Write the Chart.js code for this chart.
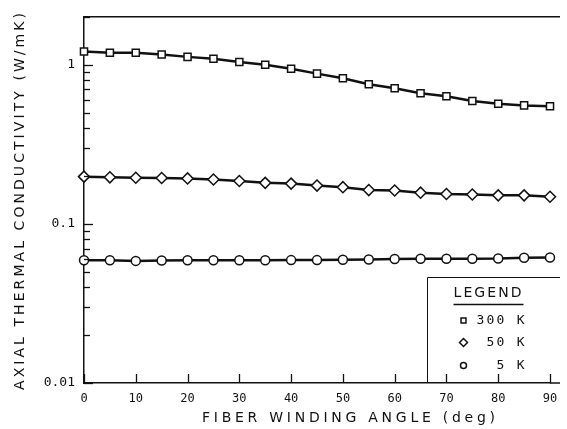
<!DOCTYPE html>
<html>
<head>
<meta charset="utf-8">
<script src="https://cdn.jsdelivr.net/npm/chart.js@4.4.1/dist/chart.umd.min.js"></script>
<style>
  html, body { margin: 0; padding: 0; background: #fff; }
  #wrap { width: 567px; height: 429px; }
</style>
</head>
<body>
<div id="wrap"><canvas id="c" width="567" height="429"></canvas></div>
<script>
// fiber winding angle (deg)
const angles = [0, 5, 10, 15, 20, 25, 30, 35, 40, 45, 50, 55, 60, 65, 70, 75, 80, 85, 90];
// axial thermal conductivity (W/mK) per temperature
const k300 = [1.21, 1.19, 1.19, 1.16, 1.12, 1.09, 1.04, 1.00, 0.944, 0.879, 0.822, 0.754, 0.711, 0.662, 0.634, 0.591, 0.569, 0.555, 0.548];
const k50 = [0.198, 0.196, 0.195, 0.194, 0.193, 0.190, 0.186, 0.181, 0.179, 0.174, 0.170, 0.163, 0.162, 0.157, 0.154, 0.153, 0.151, 0.151, 0.148];
const k5 = [0.059, 0.059, 0.0585, 0.0588, 0.059, 0.059, 0.059, 0.059, 0.0592, 0.0592, 0.0595, 0.0597, 0.0602, 0.0603, 0.0603, 0.0604, 0.0605, 0.0612, 0.0615];
const seriesNames = ['300 K', ' 50 K', '  5 K'];
const yMajorTicks = [0.01, 0.1, 1];
const xTicks = [0, 10, 20, 30, 40, 50, 60, 70, 80, 90];

const INK = '#111';
const MONO = '"DejaVu Sans Mono", "Liberation Mono", monospace';
const SANS = '"DejaVu Sans", sans-serif';

function pts(ys) {
  return angles.map((a, i) => ({ x: a, y: ys[i] }));
}

const markers = [
  { pointStyle: 'rect', radius: 5 },
  { pointStyle: 'rectRot', radius: 5.5 },
  { pointStyle: 'circle', radius: 4.5 }
];

// spaced text drawn to a target width
function spacedText(ctx, text, x, y, width) {
  ctx.letterSpacing = '0px';
  const w = ctx.measureText(text).width;
  const sp = Math.max(0, (width - w) / (text.length - 1));
  ctx.letterSpacing = sp + 'px';
  ctx.fillText(text, x, y);
  ctx.letterSpacing = '0px';
}

const decorations = {
  id: 'decorations',
  afterDraw(chart) {
    const { ctx, chartArea: ca } = chart;
    const xs = chart.scales.x, ys = chart.scales.y;
    ctx.save();
    ctx.strokeStyle = INK;
    ctx.fillStyle = INK;

    // top frame line
    ctx.lineWidth = 1.5;
    ctx.beginPath();
    ctx.moveTo(ca.left, ca.top);
    ctx.lineTo(ca.right + 10, ca.top);
    ctx.stroke();
    // bottom line runs a little past the last tick
    ctx.beginPath();
    ctx.moveTo(ca.right, ca.bottom);
    ctx.lineTo(ca.right + 10, ca.bottom);
    ctx.stroke();

    // inward y ticks (major + minor)
    ctx.lineWidth = 1.3;
    for (let d = 0.01; d < 2; d *= 10) {
      for (let m = 1; m <= 9; m++) {
        const v = d * m;
        if (v > 2) break;
        const py = Math.round(ys.getPixelForValue(v)) + 0.5;
        const len = m === 1 ? 9 : 6;
        ctx.beginPath();
        ctx.moveTo(ca.left, py);
        ctx.lineTo(ca.left + len, py);
        ctx.stroke();
      }
    }
    // inward x ticks
    xTicks.forEach(v => {
      const px = Math.round(xs.getPixelForValue(v)) + 0.5;
      ctx.beginPath();
      ctx.moveTo(px, ca.bottom);
      ctx.lineTo(px, ca.bottom - 9);
      ctx.stroke();
    });

    // legend box (open on right and bottom)
    const bx = Math.round(xs.getPixelForValue(66.2)) + 0.5;
    const by = Math.round(ys.getPixelForValue(0.0465)) + 0.5;
    ctx.lineWidth = 1;
    ctx.beginPath();
    ctx.moveTo(bx, ca.bottom);
    ctx.lineTo(bx, by);
    ctx.lineTo(ca.right + 10, by);
    ctx.stroke();

    ctx.font = '14px ' + SANS;
    ctx.textAlign = 'left';
    ctx.textBaseline = 'middle';
    spacedText(ctx, 'LEGEND', bx + 26, by + 16, 68);
    ctx.lineWidth = 1.3;
    ctx.beginPath();
    ctx.moveTo(bx + 26, by + 27);
    ctx.lineTo(bx + 96, by + 27);
    ctx.stroke();

    ctx.font = '13px ' + MONO;
    const rowY = [by + 43, by + 65, by + 88];
    seriesNames.forEach((name, i) => {
      ctx.fillStyle = '#fff';
      ctx.strokeStyle = INK;
      ctx.lineWidth = 1.5;
      Chart.helpers.drawPoint(ctx, {
        pointStyle: markers[i].pointStyle,
        radius: markers[i].radius - 1.5,
        borderWidth: 1.5,
        rotation: 0
      }, bx + 36, rowY[i]);
      ctx.fillStyle = INK;
      spacedText(ctx, name, bx + 49, rowY[i], 48);
    });

    // axis titles
    ctx.font = '14px ' + SANS;
    ctx.textAlign = 'left';
    ctx.textBaseline = 'middle';
    spacedText(ctx, 'FIBER WINDING ANGLE (deg)', 202, 418, 293);
    ctx.translate(20, 390);
    ctx.rotate(-Math.PI / 2);
    spacedText(ctx, 'AXIAL THERMAL CONDUCTIVITY (W/mK)', 0, 0, 377);
    ctx.restore();
  }
};

const datasets = [k300, k50, k5].map((ys, i) => ({
  label: seriesNames[i].trim(),
  data: pts(ys),
  borderColor: INK,
  borderWidth: 2.5,
  backgroundColor: '#fff',
  pointBackgroundColor: '#fff',
  pointBorderColor: INK,
  pointBorderWidth: 1.5,
  pointStyle: markers[i].pointStyle,
  pointRadius: markers[i].radius,
  tension: 0,
  clip: false
}));

new Chart(document.getElementById('c'), {
  type: 'line',
  data: { datasets },
  options: {
    responsive: false,
    animation: false,
    devicePixelRatio: 1,
    layout: { padding: { left: 0, top: 14, right: 17, bottom: 0 } },
    plugins: { legend: { display: false }, tooltip: { enabled: false } },
    scales: {
      x: {
        type: 'linear',
        min: 0,
        max: 90,
        afterBuildTicks: s => { s.ticks = xTicks.map(v => ({ value: v })); },
        afterFit: s => { s.height = 46; },
        grid: { display: false, drawTicks: false },
        border: { display: true, color: INK, width: 1.5 },
        ticks: { color: INK, font: { family: MONO, size: 12 }, padding: 9, maxRotation: 0 }
      },
      y: {
        type: 'logarithmic',
        min: 0.01,
        max: 2,
        afterBuildTicks: s => { s.ticks = yMajorTicks.map(v => ({ value: v })); },
        afterFit: s => { s.width = 84; },
        grid: { display: false, drawTicks: false },
        border: { display: true, color: INK, width: 1.5 },
        ticks: {
          color: INK,
          font: { family: MONO, size: 13 },
          padding: 9,
          callback: v => String(v)
        }
      }
    }
  },
  plugins: [decorations]
});
</script>
</body>
</html>
